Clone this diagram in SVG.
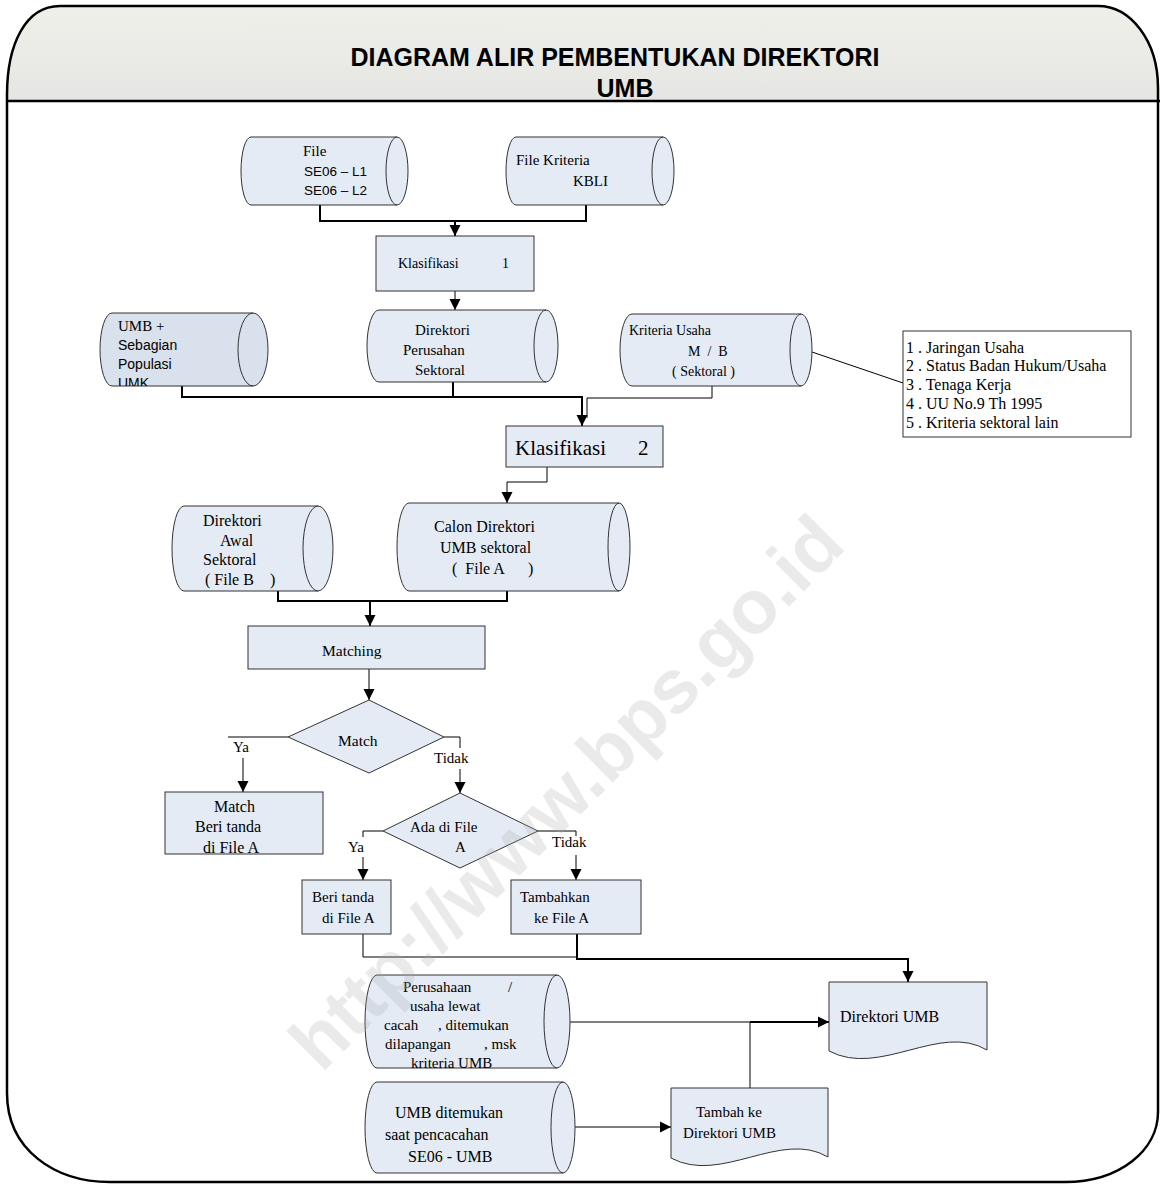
<svg xmlns="http://www.w3.org/2000/svg" width="1160" height="1184" viewBox="0 0 1160 1184">
<defs>
<linearGradient id="hdr" x1="0" y1="0" x2="0" y2="1">
<stop offset="0" stop-color="#f0f0ea"/>
<stop offset="1" stop-color="#e5e5e3"/>
</linearGradient>
<marker id="ah" markerUnits="userSpaceOnUse" markerWidth="12" markerHeight="12" refX="11" refY="6" orient="auto">
<path d="M0,0.5 L11,6 L0,11.5 Z" fill="#000"/>
</marker>
<clipPath id="umbclip"><path d="M112,313 H253 A15,36.5 0 0 1 253,386 H112 A12,36.5 0 0 1 112,313 Z"/></clipPath>
</defs>
<style>
.sh{fill:#e4ebf5;stroke:#333;stroke-width:1}
.sh2{fill:#d9e1ec;stroke:#333;stroke-width:1}
.ln{fill:none;stroke:#333;stroke-width:1}
.t{font-family:"Liberation Serif","Times New Roman",serif;font-size:15px;fill:#000;white-space:pre}
.a{font-family:"Liberation Sans",Arial,sans-serif;font-size:14px;fill:#000;white-space:pre}
.hd{font-family:"Liberation Sans",Arial,sans-serif;font-size:25px;font-weight:bold;fill:#000}
.c{fill:none;stroke:#000;stroke-width:1}
.ct{fill:none;stroke:#000;stroke-width:2}
</style>
<rect width="1160" height="1184" fill="#fff"/>
<g id="frame">
<path d="M7,101 V95 C7,45 25,6 60,6 H1098 C1130,6 1158,40 1158,88 V101 Z" fill="url(#hdr)"/>
<path d="M7,1093 V95 C7,45 25,6 60,6 H1098 C1130,6 1158,40 1158,88 V1112 C1158,1150 1120,1182 1065,1182 H110 C55,1182 7,1150 7,1093 Z" fill="none" stroke="#000" stroke-width="2.5"/>
<line x1="7" y1="101" x2="1160" y2="101" stroke="#000" stroke-width="2.5"/>
<text class="hd" x="615" y="66" text-anchor="middle">DIAGRAM ALIR PEMBENTUKAN DIREKTORI</text>
<text class="hd" x="625" y="97" text-anchor="middle">UMB</text>
</g>
<g id="connectors">
<path class="ct" d="M320,205 V221 H586 V205"/>
<path class="ct" d="M455,221 V236" marker-end="url(#ah)"/>
<path class="c" d="M455,291 V310" marker-end="url(#ah)"/>
<path class="ct" d="M182,386 V397 H582 V426" marker-end="url(#ah)"/>
<path class="ct" d="M453,382 V397"/>
<path class="c" d="M712,386 V398 H587 V418"/>
<path class="c" d="M812,352 L903,383"/>
<path class="c" d="M547,467 V482 H507 V503" marker-end="url(#ah)"/>
<path class="ct" d="M278,591 V601 H507 V591"/>
<path class="ct" d="M370,601 V626" marker-end="url(#ah)"/>
<path class="c" d="M369,669 V700" marker-end="url(#ah)"/>
<path class="c" d="M288,737 H228"/>
<path class="c" d="M243,758 V792" marker-end="url(#ah)"/>
<path class="c" d="M444,737 H460 V748"/>
<path class="c" d="M460,769 V793" marker-end="url(#ah)"/>
<path class="c" d="M383,831 H363 V837"/>
<path class="c" d="M363,857 V880" marker-end="url(#ah)"/>
<path class="c" d="M538,831 H576 V836"/>
<path class="c" d="M576,855 V880" marker-end="url(#ah)"/>
<path class="c" d="M363,934 V957 H577"/>
<path class="ct" d="M577,934 V959 H908 V982" marker-end="url(#ah)"/>
<path class="c" d="M570,1022 H750"/>
<path class="ct" d="M750,1022 H829" marker-end="url(#ah)"/>
<path class="c" d="M750,1088 V1022"/>
<path class="c" d="M575,1127 H671" marker-end="url(#ah)"/>
<text class="t" x="233" y="752">Ya</text>
<text class="t" x="434" y="763">Tidak</text>
<text class="t" x="348" y="852">Ya</text>
<text class="t" x="552" y="847">Tidak</text>
</g>
<g id="n-file-se06">
<path class="sh" d="M251,137 H397 A11,34 0 0 1 397,205 H251 A10,34 0 0 1 251,137 Z"/>
<path class="ln" d="M397,137 A11,34 0 0 0 397,205"/>
<text class="t" x="303" y="156">File</text>
<text class="a" x="304" y="176" style="font-size:13.5px">SE06 – L1</text>
<text class="a" x="304" y="195" style="font-size:13.5px">SE06 – L2</text>
</g>
<g id="n-file-kbli">
<path class="sh" d="M516,137 H663 A11,34 0 0 1 663,205 H516 A10,34 0 0 1 516,137 Z"/>
<path class="ln" d="M663,137 A11,34 0 0 0 663,205"/>
<text class="t" x="516" y="165">File Kriteria</text>
<text class="t" x="573" y="186">KBLI</text>
</g>
<g id="n-klas1">
<rect class="sh" x="376" y="236" width="158" height="55"/>
<text class="t" x="398" y="268" style="font-size:14px">Klasifikasi</text>
<text class="t" x="502" y="268" style="font-size:14px">1</text>
</g>
<g id="n-umb-populasi">
<path class="sh2" d="M112,313 H253 A15,36.5 0 0 1 253,386 H112 A12,36.5 0 0 1 112,313 Z"/>
<path class="ln" d="M253,313 A15,36.5 0 0 0 253,386"/>
<text class="t" x="118" y="331">UMB +</text>
<text class="a" x="118" y="350">Sebagian</text>
<text class="a" x="118" y="369">Populasi</text>
<text class="a" x="118" y="387.5" clip-path="url(#umbclip)">UMK</text>
</g>
<g id="n-dir-perusahaan">
<path class="sh" d="M379,310 H546 A12,36 0 0 1 546,382 H379 A12,36 0 0 1 379,310 Z"/>
<path class="ln" d="M546,310 A12,36 0 0 0 546,382"/>
<text class="t" x="415" y="335">Direktori</text>
<text class="t" x="403" y="355">Perusahan</text>
<text class="t" x="415" y="375">Sektoral</text>
</g>
<g id="n-kriteria">
<path class="sh" d="M632,314 H801 A11,36 0 0 1 801,386 H632 A12,36 0 0 1 632,314 Z"/>
<path class="ln" d="M801,314 A11,36 0 0 0 801,386"/>
<text class="t" x="629" y="335" style="font-size:14px">Kriteria Usaha</text>
<text class="t" x="688" y="356" style="font-size:14px">M  /  B</text>
<text class="t" x="672" y="376" style="font-size:14px">( Sektoral )</text>
</g>
<g id="n-note">
<rect x="903" y="331" width="228" height="106" fill="#fff" stroke="#333" stroke-width="1"/>
<text class="t" x="906" y="353" style="font-size:16px">1 . Jaringan Usaha</text>
<text class="t" x="906" y="371" style="font-size:16px">2 . Status Badan Hukum/Usaha</text>
<text class="t" x="906" y="390" style="font-size:16px">3 . Tenaga Kerja</text>
<text class="t" x="906" y="409" style="font-size:16px">4 . UU No.9 Th 1995</text>
<text class="t" x="906" y="428" style="font-size:16px">5 . Kriteria sektoral lain</text>
</g>
<g id="n-klas2">
<rect class="sh" x="506" y="426" width="157" height="41"/>
<text class="t" x="515" y="455" style="font-size:21px">Klasifikasi</text>
<text class="t" x="638" y="455" style="font-size:21px">2</text>
</g>
<g id="n-awal">
<path class="sh" d="M184,506 H318 A15,42.5 0 0 1 318,591 H184 A12,42.5 0 0 1 184,506 Z"/>
<path class="ln" d="M318,506 A15,42.5 0 0 0 318,591"/>
<text class="t" x="203" y="526" style="font-size:16px">Direktori</text>
<text class="t" x="220" y="546" style="font-size:16px">Awal</text>
<text class="t" x="203" y="565" style="font-size:16px">Sektoral</text>
<text class="t" x="205" y="585" style="font-size:16px">( File B    )</text>
</g>
<g id="n-calon">
<path class="sh" d="M409,503 H619 A11,44 0 0 1 619,591 H409 A12,44 0 0 1 409,503 Z"/>
<path class="ln" d="M619,503 A11,44 0 0 0 619,591"/>
<text class="t" x="434" y="532" style="font-size:16px">Calon Direktori</text>
<text class="t" x="440" y="553" style="font-size:16px">UMB sektoral</text>
<text class="t" x="452" y="574" style="font-size:16px">(  File A      )</text>
</g>
<g id="n-matching">
<rect class="sh" x="248" y="626" width="237" height="43"/>
<text class="t" x="322" y="656" style="font-size:15.5px">Matching</text>
</g>
<g id="n-match-dec">
<path class="sh" d="M369,700 L444,737 L369,773 L288,737 Z"/>
<text class="t" x="338" y="746" style="font-size:15.5px">Match</text>
</g>
<g id="n-match-box">
<rect class="sh" x="165" y="792" width="158" height="62"/>
<text class="t" x="214" y="812" style="font-size:16px">Match</text>
<text class="t" x="195" y="832" style="font-size:16px">Beri tanda</text>
<text class="t" x="203" y="853" style="font-size:16px">di File A</text>
</g>
<g id="n-ada-dec">
<path class="sh" d="M460,793 L538,831 L460,868 L383,831 Z"/>
<text class="t" x="410" y="832">Ada di File</text>
<text class="t" x="455" y="852">A</text>
</g>
<g id="n-beri">
<rect class="sh" x="302" y="880" width="89" height="54"/>
<text class="t" x="312" y="902">Beri tanda</text>
<text class="t" x="322" y="923">di File A</text>
</g>
<g id="n-tambahkan">
<rect class="sh" x="511" y="880" width="130" height="54"/>
<text class="t" x="520" y="902">Tambahkan</text>
<text class="t" x="534" y="923">ke File A</text>
</g>
<g id="n-perusahaan-lewat">
<path class="sh" d="M377,975 H557 A13,46.5 0 0 1 557,1068 H377 A12,46.5 0 0 1 377,975 Z"/>
<path class="ln" d="M557,975 A13,46.5 0 0 0 557,1068"/>
<text class="t" x="403" y="992">Perusahaan</text>
<text class="t" x="508" y="992">/</text>
<text class="t" x="410" y="1011">usaha lewat</text>
<text class="t" x="384" y="1030">cacah</text>
<text class="t" x="438" y="1030">, ditemukan</text>
<text class="t" x="385" y="1049">dilapangan</text>
<text class="t" x="484" y="1049">, msk</text>
<text class="t" x="411" y="1068">kriteria UMB</text>
</g>
<g id="n-umb-ditemukan">
<path class="sh" d="M377,1082 H563 A12,45.5 0 0 1 563,1173 H377 A12,45.5 0 0 1 377,1082 Z"/>
<path class="ln" d="M563,1082 A12,45.5 0 0 0 563,1173"/>
<text class="t" x="395" y="1118" style="font-size:16px">UMB ditemukan</text>
<text class="t" x="385" y="1140" style="font-size:16px">saat pencacahan</text>
<text class="t" x="408" y="1162" style="font-size:16px">SE06 - UMB</text>
</g>
<g id="n-direktori-umb">
<path class="sh" d="M829,982 H987 V1050 C940,1022 880,1078 829,1051 Z"/>
<text class="t" x="840" y="1022" style="font-size:16px">Direktori UMB</text>
</g>
<g id="n-tambah">
<path class="sh" d="M671,1088 H828 V1157 C781,1129 721,1185 671,1158 Z"/>
<text class="t" x="696" y="1117">Tambah ke</text>
<text class="t" x="683" y="1138">Direktori UMB</text>
</g>
<g id="watermark">
<text x="567" y="818" text-anchor="middle" transform="rotate(-45 567 793)" font-family="Liberation Sans,Arial,sans-serif" font-weight="bold" font-size="76" fill="#a8a8a8" fill-opacity="0.24">http://www.bps.go.id</text>
</g>
</svg>
